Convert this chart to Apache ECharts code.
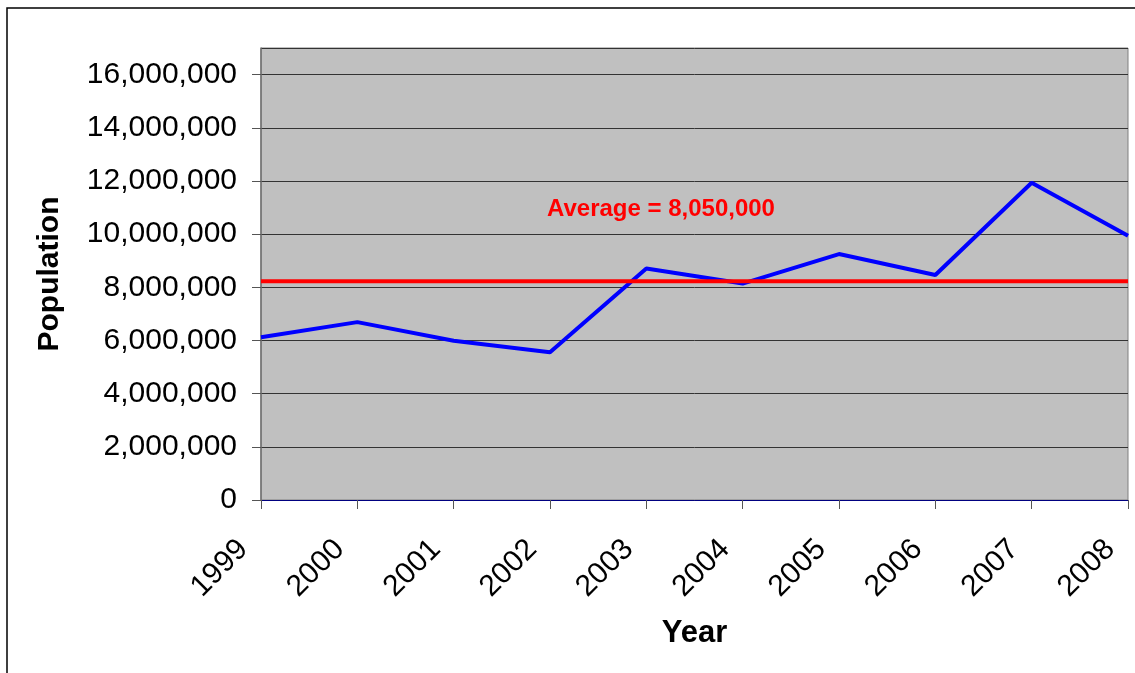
<!DOCTYPE html>
<html>
<head>
<meta charset="utf-8">
<script src="https://cdn.jsdelivr.net/npm/echarts@6/dist/echarts.min.js"></script>
<style>
html,body{margin:0;padding:0;background:#fff;}
#chart{width:1135px;height:673px;}
</style>
</head>
<body>
<div id="chart"></div>
<script>
const years = ['1999','2000','2001','2002','2003','2004','2005','2006','2007','2008'];
const population = [6120000, 6690000, 5990000, 5560000, 8710000, 8140000, 9250000, 8460000, 11930000, 9940000];
const averageLine = [8230000, 8230000, 8230000, 8230000, 8230000, 8230000, 8230000, 8230000, 8230000, 8230000];
const averageLabel = 'Average = 8,050,000';
const yTitle = 'Population';
const xTitle = 'Year';

const FONT = '"Liberation Sans", Arial, sans-serif';
const chart = echarts.init(document.getElementById('chart'), null, {renderer: 'canvas'});
chart.setOption({
  animation: false,
  backgroundColor: '#ffffff',
  textStyle: {fontFamily: FONT},
  grid: {
    left: 261, right: 7, top: 48, bottom: 173,
    outerBoundsMode: 'none', containLabel: false,
    show: true, backgroundColor: '#C0C0C0', borderColor: '#808080', borderWidth: 1
  },
  graphic: [
    {type: 'rect', shape: {x: 7, y: 8, width: 1300, height: 1000}, style: {fill: 'none', stroke: '#000', lineWidth: 1.5}, z: -10, silent: true},
    {type: 'text', x: 547, y: 209, style: {text: averageLabel, fill: '#FF0000', font: 'bold 24px ' + FONT, textVerticalAlign: 'middle', verticalAlign: 'middle'}, z: 100}
  ],
  xAxis: {
    type: 'category',
    data: years,
    boundaryGap: false,
    name: xTitle,
    nameLocation: 'middle',
    nameGap: 118,
    nameTextStyle: {fontFamily: FONT, fontSize: 31, fontWeight: 'bold', color: '#000'},
    axisLine: {show: true, onZero: true, lineStyle: {color: '#000080', width: 1}},
    axisTick: {show: true, alignWithLabel: true, length: 9, lineStyle: {color: '#555'}},
    axisLabel: {rotate: 45, margin: 27, padding: [0, 25, 0, 0], fontFamily: FONT, fontSize: 30, color: '#000', interval: 0},
    splitLine: {show: false}
  },
  yAxis: {
    type: 'value',
    min: 0, max: 17000000, interval: 2000000,
    name: yTitle,
    nameLocation: 'middle',
    nameGap: 196,
    nameRotate: 90,
    nameTextStyle: {fontFamily: FONT, fontSize: 30, fontWeight: 'bold', color: '#000'},
    axisLine: {show: true, lineStyle: {color: '#707070', width: 1.5}},
    axisTick: {show: true, length: 9, lineStyle: {color: '#555'}},
    axisLabel: {showMaxLabel: false, margin: 24, fontFamily: FONT, fontSize: 30, color: '#000',
      formatter: v => v.toLocaleString('en-US')},
    splitLine: {show: true, lineStyle: {color: '#333', width: 1}}
  },
  series: [
    {type: 'line', name: 'Average', data: averageLine, symbol: 'none', lineStyle: {color: '#FF0000', width: 4}, z: 3},
    {type: 'line', name: 'Population', data: population, symbol: 'none', lineStyle: {color: '#0000FF', width: 4}, z: 2}
  ]
});
</script>
</body>
</html>
